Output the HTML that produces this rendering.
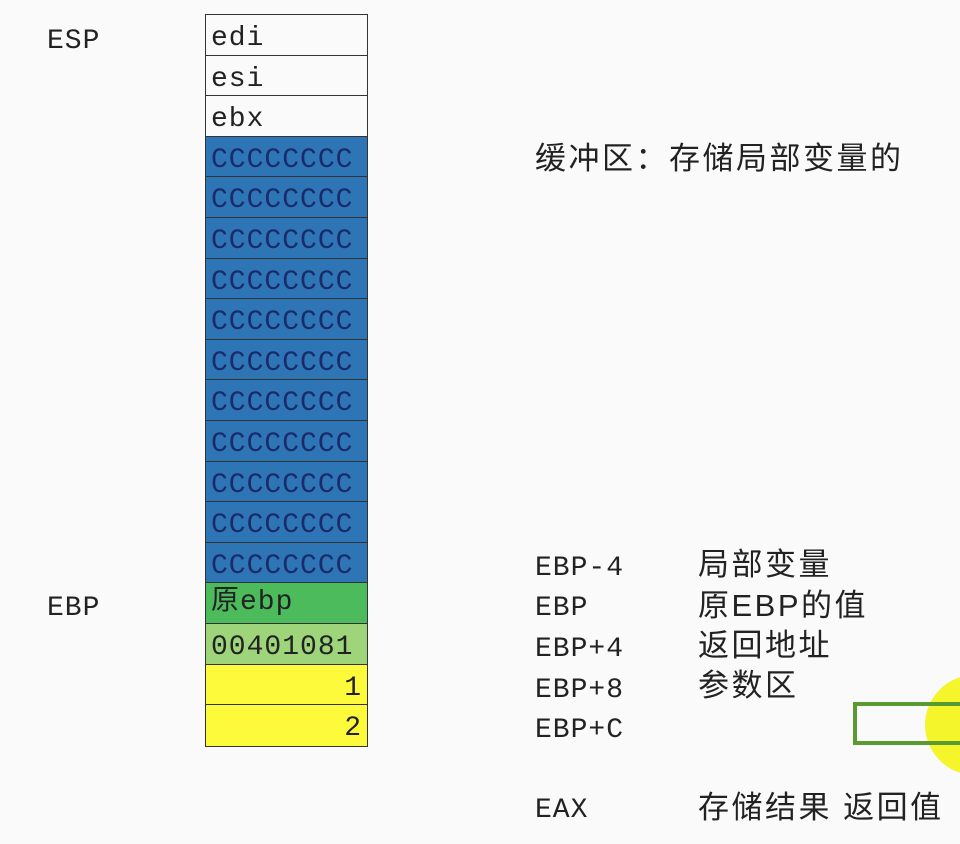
<!DOCTYPE html>
<html><head><meta charset="utf-8"><style>
html,body{margin:0;width:960px;height:844px;overflow:hidden}
body{background:#f9faf9;position:relative;font-family:"Liberation Mono","Noto Sans CJK SC",monospace;}
#wrap{position:absolute;left:0;top:0;width:960px;height:844px;overflow:hidden}
.t{position:absolute;font-size:28px;letter-spacing:1px;color:#222;line-height:1;white-space:nowrap}
.c{position:absolute;font-size:31px;letter-spacing:2.5px;color:#222;line-height:1;white-space:nowrap;font-family:"Liberation Sans","Noto Sans CJK SC",sans-serif}
#stack{position:absolute;left:205px;top:14px;width:163px;border:1.5px solid #333;box-sizing:border-box}
.row{height:40.6px;box-sizing:border-box;border-bottom:1.5px solid #333;font-size:28px;letter-spacing:1px;line-height:48px;padding:0 5px;color:#222;overflow:hidden;white-space:nowrap}
.row:last-child{border-bottom:none}
.blue{background:#2e75b6;color:#1a2a6a}
</style></head><body>
<div id="wrap">
<div class="t" style="left:47px;top:28px">ESP</div>
<div class="t" style="left:47px;top:595px">EBP</div>
<div id="stack">
<div class="row">edi</div>
<div class="row">esi</div>
<div class="row">ebx</div>
<div class="row blue">CCCCCCCC</div>
<div class="row blue">CCCCCCCC</div>
<div class="row blue">CCCCCCCC</div>
<div class="row blue">CCCCCCCC</div>
<div class="row blue">CCCCCCCC</div>
<div class="row blue">CCCCCCCC</div>
<div class="row blue">CCCCCCCC</div>
<div class="row blue">CCCCCCCC</div>
<div class="row blue">CCCCCCCC</div>
<div class="row blue">CCCCCCCC</div>
<div class="row blue">CCCCCCCC</div>
<div class="row" style="background:#4cbb5c;line-height:40px">原ebp</div>
<div class="row" style="background:#9ed47a">00401081</div>
<div class="row" style="background:#fdfa3c;text-align:right">1</div>
<div class="row" style="background:#fdfa3c;text-align:right">2</div>
</div>
<div class="c" style="left:535px;top:143px">缓冲区：存储局部变量的</div>
<div class="t" style="left:535px;top:555px">EBP-4</div>
<div class="c" style="left:698px;top:549px">局部变量</div>
<div class="t" style="left:535px;top:595px">EBP</div>
<div class="c" style="left:698px;top:590px">原EBP的值</div>
<div class="t" style="left:535px;top:636px">EBP+4</div>
<div class="c" style="left:698px;top:630px">返回地址</div>
<div class="t" style="left:535px;top:677px">EBP+8</div>
<div class="c" style="left:698px;top:670px">参数区</div>
<div class="t" style="left:535px;top:717px">EBP+C</div>
<div class="t" style="left:535px;top:797px">EAX</div>
<div class="c" style="left:698px;top:792px">存储结果 返回值</div>
<div style="position:absolute;left:925px;top:675px;width:100px;height:100px;border-radius:50%;background:#f4f52a"></div>
<div style="position:absolute;left:853px;top:702px;width:130px;height:43px;border:4px solid #5a9a30;box-sizing:border-box"></div>
</div>
</body></html>
